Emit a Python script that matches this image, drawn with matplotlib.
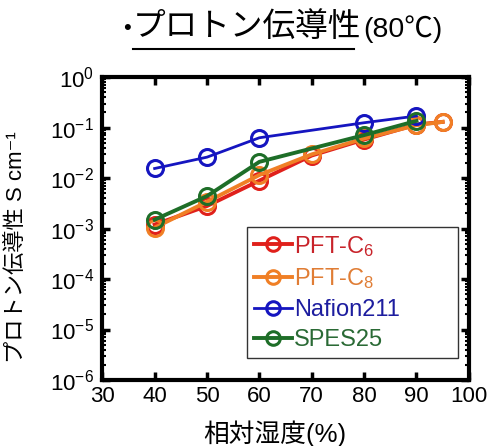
import matplotlib
matplotlib.use("Agg")
import matplotlib.pyplot as plt
from matplotlib.ticker import LogLocator, NullFormatter, FixedLocator

plt.rcParams['font.family'] = ['Liberation Sans', 'Noto Sans CJK JP', 'DejaVu Sans']
plt.rcParams['mathtext.fontset'] = 'custom'
plt.rcParams['mathtext.rm'] = 'Liberation Sans'
plt.rcParams['mathtext.it'] = 'Liberation Sans'

rh_pft = [40, 50, 60, 70, 80, 90, 95]
pft_c6 = [0.0012, 0.0028, 0.0089, 0.028, 0.058, 0.115, 0.13]
pft_c8 = [0.00104, 0.0034, 0.0115, 0.0295, 0.061, 0.112, 0.13]
rh_naf = [40, 50, 60, 80, 90]
nafion = [0.0155, 0.026, 0.063, 0.125, 0.17]
rh_spes = [40, 50, 60, 80, 90]
spes = [0.0015, 0.0044, 0.021, 0.071, 0.136]

labels = ['PFT-C$_6$', 'PFT-C$_8$', 'Nafion211', 'SPES25']
colors = ['#e0201b', '#f07f25', '#1515c0', '#1e6e28']
text_colors = ['#c8232a', '#e07d35', '#1d1d9f', '#2a6a35']
xticks = [30, 40, 50, 60, 70, 80, 90, 100]

fig = plt.figure(figsize=(4.94, 4.46), dpi=100)
ax = fig.add_axes([0.207, 0.148, 0.742, 0.679])

series = [(rh_pft, pft_c6), (rh_pft, pft_c8), (rh_naf, nafion), (rh_spes, spes)]
lws = [2.8, 2.8, 2.0, 2.8]
for (x, y), lab, c, lw in zip(series, labels, colors, lws):
    ax.plot(x, y, '-o', color=c, lw=lw, ms=11.5, mfc='none', mec=c, mew=2.2, label=lab)

ax.set_yscale('log')
ax.set_ylim(1e-6, 1)
ax.set_xlim(30, 100)
ax.xaxis.set_major_locator(FixedLocator(xticks))
ax.yaxis.set_major_locator(LogLocator(base=10, numticks=10))
ax.yaxis.set_minor_locator(LogLocator(base=10, subs=range(2, 10), numticks=20))
ax.yaxis.set_minor_formatter(NullFormatter())
ax.tick_params(which='major', direction='in', length=6, width=2.5, top=True, right=True, labelsize=16)
ax.tick_params(axis='x', which='major', pad=4)
ax.tick_params(axis='y', which='major', pad=6)
ax.tick_params(which='minor', direction='in', length=3, width=1.5, top=True, right=True)
for s in ax.spines.values():
    s.set_linewidth(3)

ax.set_xlabel('相対湿度(%)', fontsize=18.5)
ax.xaxis.set_label_coords(0.471, -0.135)
ax.set_ylabel('プロトン伝導性 S cm⁻¹', fontsize=16)
ax.yaxis.set_label_coords(-0.205, 0.44)

leg = ax.legend(loc='lower left', bbox_to_anchor=(0.395, 0.073, 0.575, 0.43), mode='expand',
                fontsize=17, frameon=True,
                fancybox=False, edgecolor='black', handlelength=1.6, handletextpad=0.1,
                borderpad=0.3, labelspacing=0.33, borderaxespad=0, markerscale=0.85)
leg.get_frame().set_linewidth(1.0)
for t, c in zip(leg.get_texts(), text_colors):
    t.set_color(c)

fig.text(0.257, 0.935, '•', fontsize=16, ha='center', va='center')
fig.text(0.269, 0.937, 'プロトン伝導性', fontsize=23.5, ha='left', va='center')
fig.text(0.735, 0.935, '(80℃)', fontsize=20.5, ha='left', va='center')
fig.lines.append(plt.Line2D([0.269, 0.717], [0.890, 0.890], transform=fig.transFigure, color='black', lw=1.5))

fig.savefig('out.png', dpi=100)
